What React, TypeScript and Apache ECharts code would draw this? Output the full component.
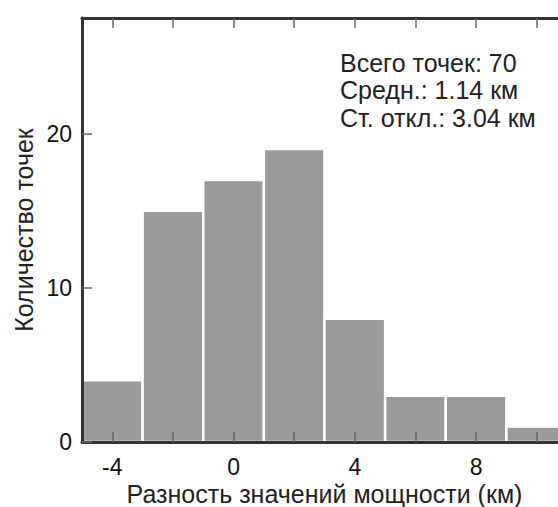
import React, { useEffect, useRef } from "react";
import * as echarts from "echarts";

const binStarts = [-5, -3, -1, 1, 3, 5, 7, 9];
const binWidth = 2;
const counts = [4, 15, 17, 19, 8, 3, 3, 1];
const xTickValues = [-4, -2, 0, 2, 4, 6, 8, 10];
const xLabelValues = [-4, 0, 4, 8];
const yTickValues = [0, 10, 20];
const statsLines = ["Всего точек: 70", "Средн.: 1.14 км", "Ст. откл.: 3.04 км"];
const xTitle = "Разность значений мощности (км)";
const yTitle = "Количество точек";

const FONT = "Liberation Sans, Arial, sans-serif";

export default function App() {
  const ref = useRef<HTMLDivElement>(null);
  useEffect(() => {
    if (!ref.current) return;
    const chart = echarts.init(ref.current, null, { renderer: "svg" });
    const data = binStarts.map((s, i) => [s, s + binWidth, counts[i]]);
    const axisLine = { show: true, onZero: false, lineStyle: { color: "#333", width: 3 } };
    const tickStyle = { color: "#666", width: 1.5 };
    chart.setOption({
      animation: false,
      backgroundColor: "#fff",
      textStyle: { fontFamily: FONT },
      grid: { left: 82, top: 18, width: 485, height: 424, containLabel: false, outerBoundsMode: "none" },
      xAxis: [
        {
          type: "value",
          position: "bottom",
          min: -5,
          max: 11,
          z: 10,
          axisLine,
          axisTick: { show: true, inside: true, length: 10, lineStyle: tickStyle, customValues: xTickValues },
          axisLabel: { customValues: xLabelValues, fontSize: 23, color: "#111", margin: 13, fontFamily: FONT },
          splitLine: { show: false },
          name: xTitle,
          nameLocation: "middle",
          nameGap: 39,
          nameMoveOverlap: false,
          nameTextStyle: { fontSize: 25, color: "#222", fontFamily: FONT },
        },
        {
          type: "value",
          position: "top",
          min: -5,
          max: 11,
          z: 10,
          axisLine,
          axisTick: { show: true, inside: true, length: 10, lineStyle: tickStyle, customValues: xTickValues },
          axisLabel: { show: false },
          splitLine: { show: false },
        },
      ],
      yAxis: {
        type: "value",
        min: 0,
        max: 27.5,
        z: 10,
        axisLine,
        axisTick: { show: true, inside: true, length: 10, lineStyle: tickStyle, customValues: yTickValues },
        axisLabel: { customValues: yTickValues, fontSize: 23, color: "#111", margin: 10, fontFamily: FONT },
        splitLine: { show: false },
        name: yTitle,
        nameLocation: "middle",
        nameGap: 46,
        nameRotate: 90,
        nameMoveOverlap: false,
        nameTextStyle: { fontSize: 25, color: "#222", fontFamily: FONT },
      },
      series: [
        {
          type: "custom",
          xAxisIndex: 0,
          yAxisIndex: 0,
          data,
          encode: { x: [0, 1], y: 2 },
          renderItem: (params: any, api: any) => {
            const p0 = api.coord([api.value(0), api.value(2)]);
            const p1 = api.coord([api.value(1), 0]);
            return {
              type: "rect",
              shape: { x: p0[0], y: p0[1], width: p1[0] - p0[0], height: p1[1] - p0[1] },
              style: { fill: "#9a9a9a", stroke: "#fff", lineWidth: 2.5 },
            };
          },
        },
      ],
      graphic: statsLines.map((t, i) => ({
        type: "text",
        left: 340,
        top: 50 + i * 27.5,
        z: 20,
        style: { text: t, fontSize: 25, fill: "#222", fontFamily: FONT },
      })),
    });
    return () => chart.dispose();
  }, []);
  return <div ref={ref} style={{ position: "fixed", left: 0, top: 0, width: 558, height: 507 }} />;
}
